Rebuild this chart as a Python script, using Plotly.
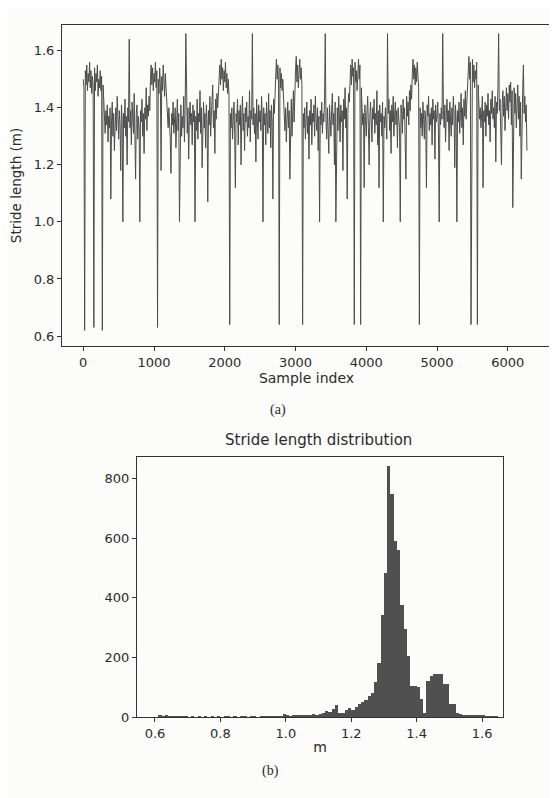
import plotly.graph_objects as go

# ---------------- data: stride length time series (one value every 10 samples) ----------------
stride_step = 10
stride_length = [
    1.50, 1.47, 0.62, 1.53, 1.48, 1.55, 1.46, 1.52, 1.49, 1.56,   # 0
    1.47, 1.53, 1.45, 1.51, 1.48, 0.63, 1.54, 1.46, 1.52, 1.49,   # 100
    1.55, 1.44, 1.50, 1.47, 1.53, 1.46, 1.51, 0.62, 1.48, 1.43,   # 200
    1.36, 1.31, 1.39, 1.34, 1.41, 1.28, 1.37, 1.33, 1.40, 1.08,   # 300
    1.35, 1.42, 1.30, 1.38, 1.25, 1.36, 1.40, 1.32, 1.44, 1.37,   # 400
    1.29, 1.39, 1.34, 1.18, 1.41, 1.36, 1.00, 1.38, 1.33, 1.43,   # 500
    1.30, 1.37, 1.20, 1.40, 1.35, 1.64, 1.33, 1.39, 1.27, 1.42,   # 600
    1.36, 1.31, 1.45, 1.34, 1.15, 1.38, 1.41, 1.29, 1.37, 1.33,   # 700
    1.00, 1.39, 1.35, 1.43, 1.30, 1.38, 1.24, 1.40, 1.36, 1.47,   # 800
    1.32, 1.41, 1.37, 1.44, 1.39, 1.50, 1.55, 1.48, 1.54, 1.46,   # 900
    1.52, 1.49, 1.56, 1.47, 1.53, 0.63, 1.50, 1.45, 1.54, 1.48,   # 1000
    1.18, 1.51, 1.46, 1.55, 1.49, 1.44, 1.52, 1.47, 1.42, 1.38,   # 1100
    1.33, 1.40, 1.36, 1.29, 1.17, 1.38, 1.34, 1.42, 1.31, 1.37,   # 1200
    1.40, 1.26, 1.35, 1.43, 1.32, 1.38, 1.00, 1.36, 1.41, 1.30,   # 1300
    1.37, 1.33, 1.44, 1.28, 1.39, 1.66, 1.35, 1.31, 1.40, 1.22,   # 1400
    1.36, 1.42, 1.34, 1.38, 1.27, 1.41, 1.35, 1.39, 1.00, 1.37,   # 1500
    1.32, 1.43, 1.29, 1.38, 1.35, 1.46, 1.31, 1.40, 1.19, 1.36,   # 1600
    1.42, 1.33, 1.38, 1.26, 1.41, 1.35, 1.07, 1.39, 1.34, 1.44,   # 1700
    1.30, 1.37, 1.41, 1.48, 1.33, 1.39, 1.24, 1.43, 1.36, 1.45,   # 1800
    1.40, 1.47, 1.51, 1.55, 1.48, 1.57, 1.50, 1.54, 1.46, 1.53,   # 1900
    1.49, 1.56, 1.47, 1.52, 1.45, 1.50, 1.44, 0.64, 1.38, 1.33,   # 2000
    1.40, 1.29, 1.36, 1.42, 1.31, 1.12, 1.38, 1.35, 1.43, 1.27,   # 2100
    1.39, 1.34, 1.41, 1.20, 1.37, 1.44, 1.32, 1.38, 1.25, 1.40,   # 2200
    1.35, 1.42, 1.30, 1.37, 1.33, 1.46, 1.28, 1.39, 1.36, 1.66,   # 2300
    1.34, 1.40, 1.31, 1.38, 1.21, 1.43, 1.36, 1.29, 1.41, 1.35,   # 2400
    1.39, 1.32, 1.44, 1.37, 1.00, 1.40, 1.34, 1.38, 1.27, 1.42,   # 2500
    1.36, 1.31, 1.45, 1.33, 1.39, 1.26, 1.41, 1.35, 1.08, 1.43,   # 2600
    1.38, 1.47, 1.53, 1.57, 1.50, 1.55, 1.48, 0.64, 1.54, 1.47,   # 2700
    1.52, 1.46, 1.50, 1.44, 1.37, 1.32, 1.40, 1.28, 1.36, 1.42,   # 2800
    1.33, 1.39, 1.15, 1.37, 1.43, 1.30, 1.38, 1.46, 1.35, 1.49,   # 2900
    1.53, 1.58, 1.49, 1.55, 1.47, 1.52, 1.57, 1.50, 1.54, 1.48,   # 3000
    0.64, 1.38, 1.33, 1.40, 1.29, 1.36, 1.42, 1.31, 1.37, 1.22,   # 3100
    1.39, 1.34, 1.43, 1.27, 1.38, 1.35, 1.41, 1.30, 1.44, 1.36,   # 3200
    1.32, 1.40, 1.25, 1.37, 1.00, 1.39, 1.34, 1.42, 1.31, 1.38,   # 3300
    1.35, 1.43, 1.66, 1.36, 1.29, 1.40, 1.33, 1.24, 1.41, 1.37,   # 3400
    1.30, 1.39, 1.45, 1.34, 1.38, 1.20, 1.42, 1.00, 1.36, 1.40,   # 3500
    1.32, 1.44, 1.37, 1.28, 1.41, 1.35, 1.39, 1.18, 1.43, 1.36,   # 3600
    1.47, 1.33, 1.40, 1.08, 1.38, 1.45, 1.42, 1.50, 1.55, 1.48,   # 3700
    1.57, 1.51, 1.54, 0.64, 1.56, 1.49, 1.53, 1.46, 1.52, 1.57,   # 3800
    1.50, 1.55, 0.64, 1.47, 1.40, 1.34, 1.38, 1.12, 1.41, 1.36,   # 3900
    1.30, 1.39, 1.44, 1.33, 1.20, 1.37, 1.42, 1.35, 1.28, 1.40,   # 4000
    1.36, 1.43, 1.31, 1.38, 1.34, 1.46, 1.27, 1.39, 1.12, 1.41,   # 4100
    1.35, 1.38, 1.30, 1.42, 1.00, 1.37, 1.33, 1.40, 1.36, 1.29,   # 4200
    1.66, 1.38, 1.43, 1.32, 1.39, 1.24, 1.41, 1.35, 1.44, 1.30,   # 4300
    1.37, 1.42, 1.34, 1.39, 1.26, 1.40, 1.36, 1.33, 1.00, 1.41,   # 4400
    1.38, 1.31, 1.43, 1.36, 1.40, 1.29, 1.15, 1.44, 1.37, 1.42,   # 4500
    1.34, 1.46, 1.39, 1.48, 1.43, 1.52, 1.57, 1.50, 1.55, 1.48,   # 4600
    1.54, 1.49, 1.56, 1.51, 1.47, 0.64, 1.40, 1.33, 1.38, 1.30,   # 4700
    1.42, 1.36, 1.29, 1.39, 1.35, 1.12, 1.41, 1.37, 1.44, 1.32,   # 4800
    1.38, 1.34, 1.40, 1.27, 1.43, 1.36, 1.39, 1.22, 1.41, 1.35,   # 4900
    1.37, 1.42, 1.31, 1.00, 1.38, 1.34, 1.40, 1.36, 1.66, 1.39,   # 5000
    1.33, 1.41, 1.28, 1.37, 1.43, 1.35, 1.39, 1.25, 1.42, 1.36,   # 5100
    1.30, 1.40, 1.34, 1.44, 1.38, 1.19, 1.41, 1.36, 1.00, 1.39,   # 5200
    1.35, 1.42, 1.31, 1.38, 1.45, 1.33, 1.40, 1.27, 1.43, 1.37,   # 5300
    1.46, 1.36, 1.41, 1.49, 1.54, 1.58, 1.50, 1.56, 0.64, 1.52,   # 5400
    1.57, 1.49, 1.55, 1.47, 1.53, 1.50, 1.56, 0.64, 1.48, 1.42,   # 5500
    1.36, 1.40, 1.33, 1.38, 1.44, 1.12, 1.39, 1.35, 1.42, 1.30,   # 5600
    1.41, 1.37, 1.45, 1.34, 1.39, 1.28, 1.43, 1.38, 1.46, 1.36,   # 5700
    1.40, 1.33, 1.44, 1.21, 1.42, 1.38, 1.47, 1.66, 1.39, 1.43,   # 5800
    1.35, 1.20, 1.41, 1.46, 1.37, 1.44, 1.32, 1.40, 1.47, 1.39,   # 5900
    1.45, 1.36, 1.48, 1.42, 1.49, 1.34, 1.46, 1.05, 1.43, 1.47,   # 6000
    1.38, 1.45, 1.33, 1.41, 1.48, 1.36, 1.44, 1.30, 1.42, 1.15,   # 6100
    1.40, 1.46, 1.55, 1.38, 1.44, 1.35, 1.41, 1.25,               # 6200
]
sample_index = [i * stride_step for i in range(len(stride_length))]

# ---------------- data: histogram of stride length ----------------
hist_bin_start = 0.61
hist_bin_width = 0.01
hist_counts = [
    4, 3, 5, 2, 2, 1, 1, 1, 1, 0,          # 0.61 - 0.70
    1, 0, 1, 0, 1, 0, 1, 0, 1, 0,          # 0.71 - 0.80
    1, 1, 0, 1, 0, 1, 1, 0, 1, 1,          # 0.81 - 0.90
    0, 1, 2, 1, 2, 1, 3, 2, 9, 4,          # 0.91 - 1.00
    3, 5, 6, 5, 8, 6, 7, 9, 8, 11,         # 1.01 - 1.10
    13, 20, 18, 26, 40, 15, 12, 24, 30, 22,  # 1.11 - 1.20
    32, 42, 50, 58, 70, 82, 116, 182, 343, 485,  # 1.21 - 1.30
    843, 750, 590, 560, 377, 294, 205, 105, 105, 100,  # 1.31 - 1.40
    60, 15, 122, 138, 146, 146, 144, 112, 110, 42,  # 1.41 - 1.50
    45, 15, 10, 8, 6, 5, 4, 6, 8, 5,        # 1.51 - 1.60
    3, 2, 1, 1,                             # 1.61 - 1.64
]
hist_centers = [hist_bin_start + hist_bin_width * (k + 0.5) for k in range(len(hist_counts))]

ts_yticks = [0.6, 0.8, 1.0, 1.2, 1.4, 1.6]
ts_xticks = [0, 1000, 2000, 3000, 4000, 5000, 6000]
hist_xticks = [0.6, 0.8, 1.0, 1.2, 1.4, 1.6]
hist_yticks = [0, 200, 400, 600, 800]

# ---------------- figure ----------------
# The page body has an 8px default margin, so the figure is 8px smaller
# than the window and every window-pixel position is shifted by 8px.
WIN_W, WIN_H = 557, 798
OFF = 8
W, H = WIN_W - OFF, WIN_H - OFF
INK = "#4c4c4c"
TXT = "#2a2a2a"
FONT = "DejaVu Sans"

def fx(px):
    return (px - OFF) / W

def fy(py):
    return 1 - (py - OFF) / H

fig = go.Figure()
fig.add_trace(go.Scatter(
    x=sample_index, y=stride_length, mode="lines",
    line=dict(color=INK, width=1), xaxis="x", yaxis="y", showlegend=False,
))
fig.add_trace(go.Bar(
    x=hist_centers, y=hist_counts, width=hist_bin_width,
    marker=dict(color="#505050", line=dict(width=0)),
    xaxis="x2", yaxis="y2", showlegend=False,
))

axis_common = dict(
    showline=True, mirror=True, linecolor="#333333", linewidth=1,
    ticks="outside", ticklen=4, tickcolor="#333333", showgrid=False,
    zeroline=False, automargin=False,
    tickfont=dict(family=FONT, size=13, color=TXT),
)

fig.update_layout(
    width=W, height=H,
    margin=dict(l=0, r=0, t=0, b=0, autoexpand=False),
    paper_bgcolor="#fcfcfa", plot_bgcolor="#fcfcfa",
    bargap=0,
    font=dict(family=FONT, color=TXT),
    xaxis=dict(domain=[fx(62), fx(551)], anchor="y", range=[-300, 6610],
               tickvals=ts_xticks,
               title=dict(text="Sample index", font=dict(family=FONT, size=14, color=TXT), standoff=2),
               **axis_common),
    yaxis=dict(domain=[fy(346), fy(25)], anchor="x", range=[0.565, 1.69],
               tickvals=ts_yticks, tickformat=".1f",
               title=dict(text="Stride length (m)", font=dict(family=FONT, size=13.5, color=TXT), standoff=8),
               **axis_common),
    xaxis2=dict(domain=[fx(137), fx(503)], anchor="y2", range=[0.545, 1.664],
                tickvals=hist_xticks, tickformat=".1f",
                title=dict(text="m", font=dict(family=FONT, size=14, color=TXT), standoff=2),
                **axis_common),
    yaxis2=dict(domain=[fy(717), fy(457)], anchor="x2", range=[0, 873],
                tickvals=hist_yticks, **axis_common),
    annotations=[
        dict(text="(a)", x=fx(278), y=fy(410), xref="paper", yref="paper",
             xanchor="center", yanchor="middle", showarrow=False,
             font=dict(family="Liberation Serif", size=14, color=TXT)),
        dict(text="(b)", x=fx(270), y=fy(771), xref="paper", yref="paper",
             xanchor="center", yanchor="middle", showarrow=False,
             font=dict(family="Liberation Serif", size=14, color=TXT)),
        dict(text="Stride length distribution", x=fx(318), y=fy(440),
             xref="paper", yref="paper", xanchor="center", yanchor="middle",
             showarrow=False, font=dict(family=FONT, size=15, color=TXT)),
    ],
)

fig.write_html("out.html")
